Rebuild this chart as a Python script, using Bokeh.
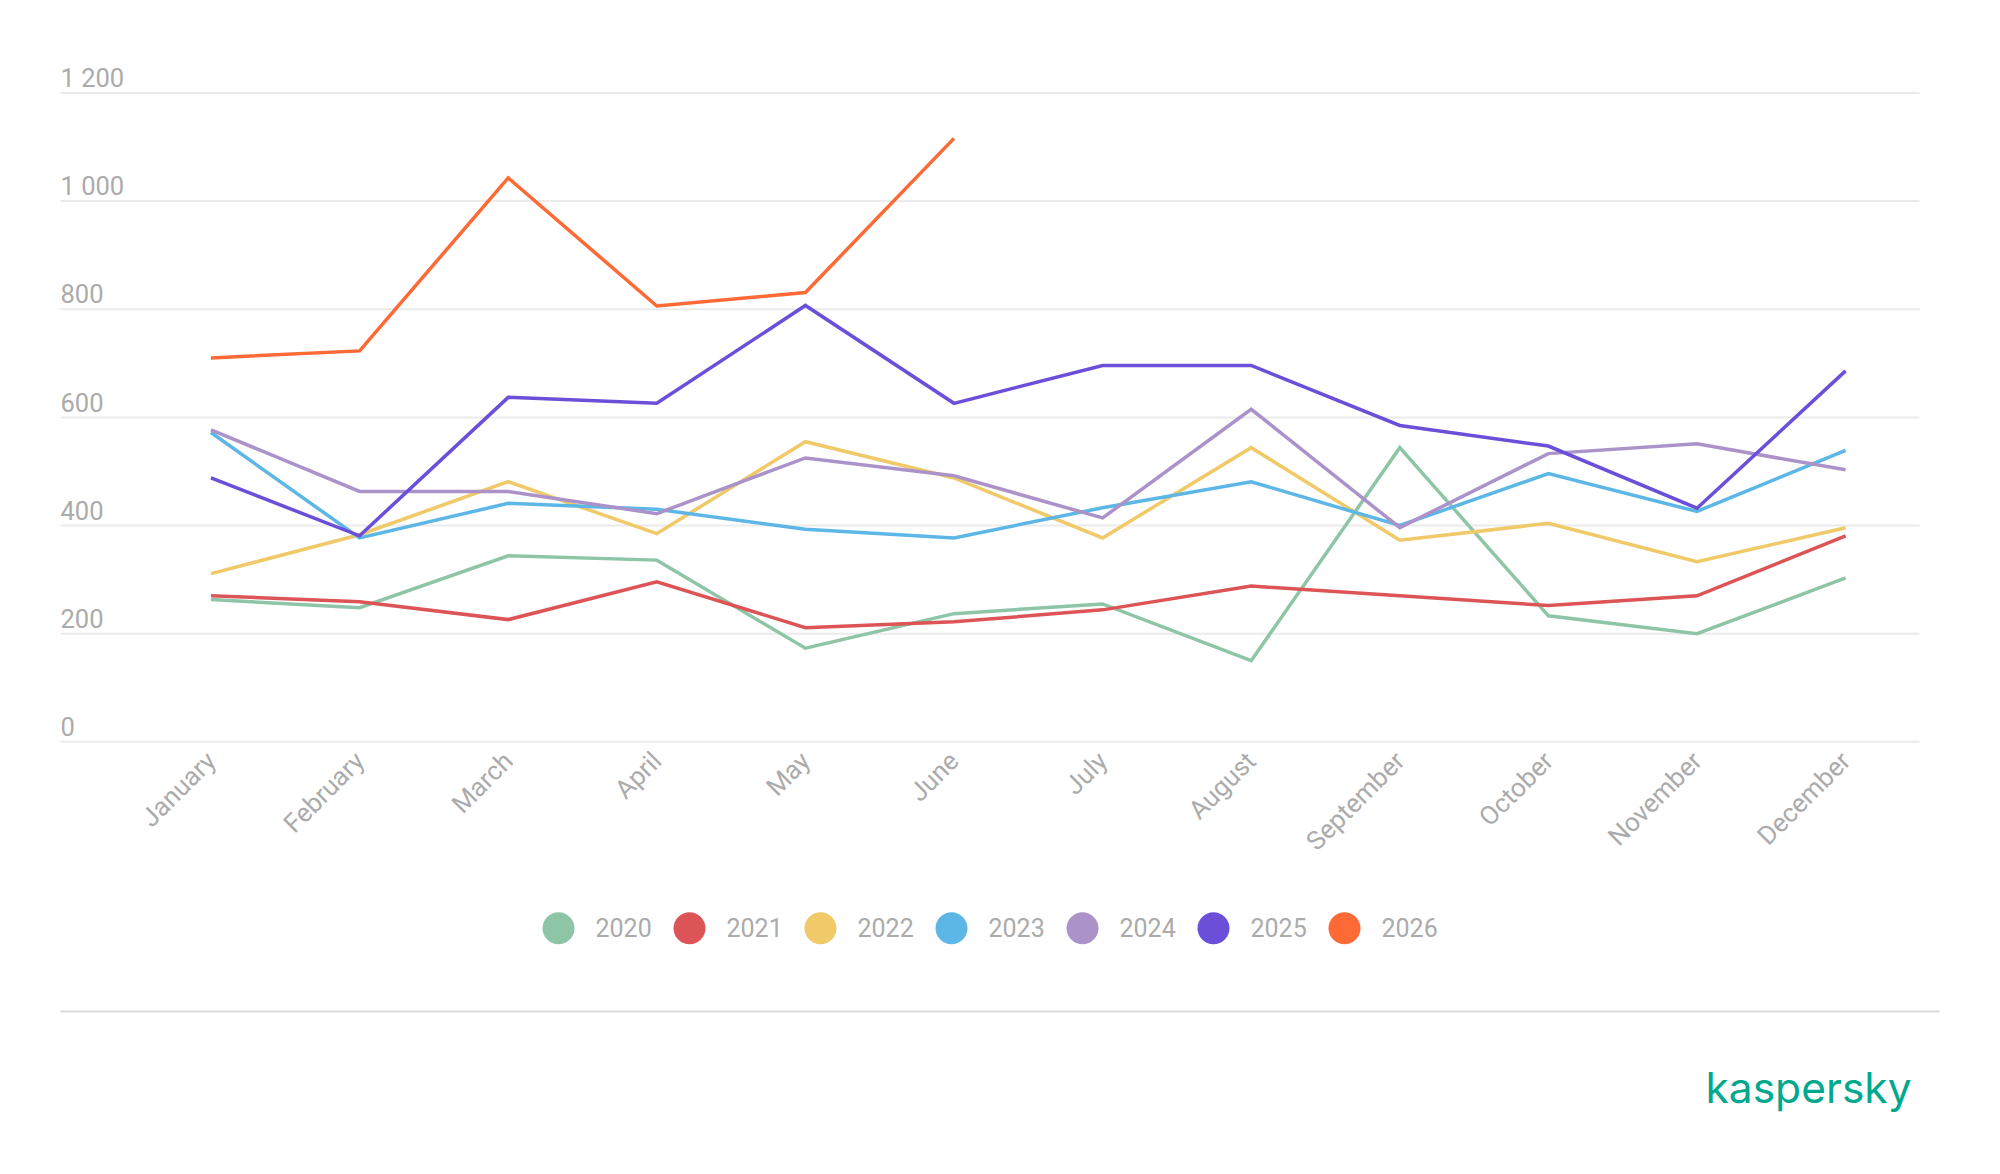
import math
from bokeh.plotting import figure
from bokeh.models import Range1d
from bokeh.core.properties import value
from bokeh.embed import file_html
from bokeh.resources import INLINE

months = ["January", "February", "March", "April", "May", "June",
          "July", "August", "September", "October", "November", "December"]
years = ["2020", "2021", "2022", "2023", "2024", "2025", "2026"]
colors = ["#8fc5a7", "#dc5456", "#f0c968", "#5db7e6", "#ab93c9", "#6b4fd9", "#fe6a35"]

v2020 = [263, 248, 344, 336, 173, 237, 255, 150, 544, 233, 200, 303]
v2021 = [270, 259, 226, 296, 211, 222, 244, 288, 270, 252, 270, 381]
v2022 = [311, 383, 481, 385, 555, 488, 377, 544, 373, 404, 333, 396]
v2023 = [572, 377, 441, 430, 393, 377, 433, 481, 400, 496, 426, 539]
v2024 = [577, 463, 463, 422, 525, 492, 414, 615, 396, 533, 551, 503]
v2025 = [488, 381, 637, 626, 807, 626, 696, 696, 585, 547, 432, 686]
v2026 = [710, 723, 1043, 806, 831, 1116]
series = [v2020, v2021, v2022, v2023, v2024, v2025, v2026]

y_ticks = [0, 200, 400, 600, 800, 1000, 1200]
y_labels = ["0", "200", "400", "600", "800", "1 000", "1 200"]

FONT = "Roboto"
GRAY = "#ababab"
W, H = 2000, 1174

# layout geometry (canvas pixels) -> data-space helpers
X0_PX, X_STEP_PX = 210.5, 148.6      # January position, month spacing
Y0_PX, Y_PX_PER_UNIT = 741.3, 0.5407  # value 0 position, px per unit


def dx(px):
    return (px - X0_PX) / X_STEP_PX


def dy(py):
    return (Y0_PX - py) / Y_PX_PER_UNIT


XMIN, XMAX = dx(60), dx(1919)

p = figure(width=W, height=H, output_backend="svg", toolbar_location=None,
           x_range=Range1d(dx(0), dx(W)), y_range=Range1d(dy(H), dy(0)),
           x_axis_location=None, y_axis_location=None,
           min_border=0, min_border_left=0, min_border_right=0,
           min_border_top=0, min_border_bottom=0)
p.outline_line_color = None
p.background_fill_color = "white"
p.border_fill_color = "white"
p.grid.grid_line_color = None
p.grid.visible = False

# horizontal grid lines at the y ticks
p.segment(x0=[XMIN] * len(y_ticks), x1=[XMAX] * len(y_ticks),
          y0=y_ticks, y1=y_ticks, line_color="#ebebeb", line_width=2)

# y tick labels, sitting just above their grid line
p.text(x=[XMIN] * len(y_ticks), y=[t + 15.3 / Y_PX_PER_UNIT for t in y_ticks],
       text=y_labels, text_font=value(FONT), text_font_size="25.5px",
       text_color=GRAY, text_align="left", text_baseline="middle")

# month labels, rotated 45 degrees
p.text(x=list(range(len(months))), y=[dy(756)] * len(months), text=months,
       angle=math.pi / 4, text_font=value(FONT), text_font_size="26px",
       text_color=GRAY, text_align="right", text_baseline="middle")

# series
for vals, col in zip(series, colors):
    p.line(x=list(range(len(vals))), y=vals, line_color=col, line_width=3.5,
           line_join="miter")

# legend
lx = [dx(558 + 131 * i) for i in range(len(years))]
p.scatter(x=lx, y=[dy(927.7)] * len(years), size=32, marker="circle",
          fill_color=colors, line_color=None)
p.text(x=lx, y=[dy(926.7)] * len(years), text=years, x_offset=37,
       text_font=value(FONT), text_font_size="25px", text_color=GRAY,
       text_align="left", text_baseline="middle")

# footer separator and logo
p.segment(x0=[dx(60)], x1=[dx(1939)], y0=[dy(1011)], y1=[dy(1011)],
          line_color="#dadada", line_width=2)
p.text(x=[dx(1705)], y=[dy(1086.7)], text=["kaspersky"],
       text_font=value("Inter"), text_font_size="42.5px", text_color="#00a88e",
       text_align="left", text_baseline="middle")

open("out.html", "w").write(file_html(p, INLINE))
